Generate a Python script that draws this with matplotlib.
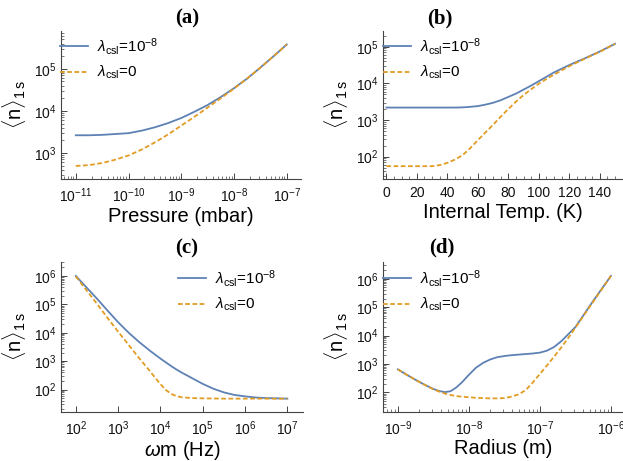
import matplotlib
matplotlib.use("Agg")
import matplotlib.pyplot as plt
import numpy as np

plt.rcParams["font.family"] = ["Liberation Sans", "DejaVu Sans"]
plt.rcParams["mathtext.fontset"] = "custom"
plt.rcParams["mathtext.rm"] = "Liberation Sans"
plt.rcParams["mathtext.it"] = "Liberation Sans:italic"
plt.rcParams["mathtext.bf"] = "Liberation Sans:bold"

BLUE = "#5E81B5"
ORANGE = "#E19C24"

# values read off log axes are kept as log10 of <n>
# (a) pressure, log10 of mbar
log_p = [-11, -10.75, -10.5, -10.25, -10, -9.75, -9.5, -9.25, -9, -8.75, -8.5, -8.25,
         -8, -7.75, -7.5, -7.25, -7]
log_n_a_csl = [3.42, 3.42, 3.43, 3.45, 3.47, 3.53, 3.61, 3.71, 3.83, 3.98, 4.14, 4.33,
               4.54, 4.77, 5.03, 5.30, 5.58]
log_n_a_0 = [2.69, 2.71, 2.76, 2.84, 2.94, 3.08, 3.25, 3.44, 3.65, 3.86, 4.08, 4.30,
             4.53, 4.77, 5.03, 5.30, 5.58]

# (b) internal temperature, K
temp = [0, 10, 20, 30, 35, 40, 45, 50, 55, 60, 65, 70, 75, 80, 85, 90, 95, 100, 105,
        110, 120, 130, 140, 150]
log_n_b_csl = [3.34, 3.34, 3.34, 3.34, 3.34, 3.34, 3.34, 3.345, 3.36, 3.38, 3.42, 3.47,
               3.54, 3.63, 3.72, 3.83, 3.94, 4.06, 4.18, 4.30, 4.50, 4.68, 4.87, 5.08]
log_n_b_0 = [1.74, 1.74, 1.74, 1.74, 1.77, 1.83, 1.92, 2.04, 2.23, 2.45, 2.66, 2.87,
             3.09, 3.30, 3.50, 3.68, 3.84, 3.99, 4.12, 4.24, 4.47, 4.67, 4.86, 5.08]

# (c) trap frequency, log10 of Hz
log_w = [2, 2.25, 2.5, 2.75, 3, 3.25, 3.5, 3.75, 3.875, 4, 4.125, 4.25, 4.375, 4.5,
         4.75, 5, 5.25, 5.5, 5.75, 6, 6.25, 6.5, 6.75, 7]
log_n_c_csl = [6.0, 5.6, 5.2, 4.78, 4.37, 4.0, 3.67, 3.37, 3.23, 3.09, 2.96, 2.83, 2.71,
               2.60, 2.40, 2.20, 2.03, 1.90, 1.81, 1.76, 1.72, 1.70, 1.69, 1.68]
log_n_c_0 = [5.98, 5.5, 5.02, 4.52, 4.04, 3.57, 3.1, 2.65, 2.42, 2.19, 1.99, 1.85, 1.77,
             1.73, 1.70, 1.69, 1.685, 1.68, 1.68, 1.68, 1.68, 1.68, 1.68, 1.68]

# (d) radius, log10 of m
log_r = [-9, -8.875, -8.75, -8.625, -8.5, -8.42, -8.34, -8.26, -8.18, -8.1, -8.0, -7.9,
         -7.8, -7.7, -7.6, -7.5, -7.4, -7.3, -7.2, -7.1, -7.0, -6.9, -6.8, -6.7, -6.6,
         -6.5, -6.25, -6.0]
log_n_d_csl = [2.81, 2.62, 2.44, 2.27, 2.12, 2.05, 2.01, 2.04, 2.17, 2.35, 2.62, 2.87,
               3.04, 3.16, 3.24, 3.28, 3.31, 3.33, 3.35, 3.37, 3.40, 3.47, 3.60, 3.80,
               4.05, 4.30, 5.22, 6.10]
log_n_d_0 = [2.81, 2.62, 2.44, 2.27, 2.11, 2.03, 1.96, 1.91, 1.87, 1.85, 1.83, 1.81,
             1.80, 1.79, 1.79, 1.80, 1.85, 1.93, 2.08, 2.35, 2.65, 2.95, 3.26, 3.58,
             3.92, 4.28, 5.19, 6.10]

W, H = 623, 461
fig = plt.figure(figsize=(W / 100, H / 100), dpi=100)


def box(l, t, r, b):
    return [l / W, 1 - b / H, (r - l) / W, (b - t) / H]


def style(ax):
    ax.spines[["top", "right"]].set_visible(False)
    ax.spines[["left", "bottom"]].set_color("#444444")
    ax.spines[["left", "bottom"]].set_linewidth(0.8)
    ax.tick_params(which="both", direction="in", color="#444444", labelsize=10, labelcolor="#111111")
    ax.tick_params(which="major", length=4, width=0.7)
    ax.tick_params(which="minor", length=2, width=0.5)
    ax.tick_params(axis="x", which="major", pad=5)
    ax.set_ylabel(r"$\langle$n$\rangle_{\rm 1\,s}$", fontsize=14.5, labelpad=4)


def draw(ax, x, y1, y0, logx=True):
    x = np.array(x, dtype=float)
    if logx:
        x = 10 ** x
    ax.plot(x, 10 ** np.array(y1), color=BLUE, lw=1.3, label=r"$\lambda_{\rm csl}$=10$^{-8}$")
    ax.plot(x, 10 ** np.array(y0), color=ORANGE, lw=1.3, ls=(0, (2.6, 1.4)), label=r"$\lambda_{\rm csl}$=0")


def legend(ax, px, py):
    ax.legend(loc="upper left", bbox_to_anchor=(px / W, 1 - py / H), bbox_transform=fig.transFigure,
              frameon=False, fontsize=11, handlelength=1.85, handletextpad=0.55,
              borderpad=0, borderaxespad=0, labelspacing=0.45)


ax = fig.add_axes(box(61, 31, 301, 179))
draw(ax, log_p, log_n_a_csl, log_n_a_0)
ax.set_xscale("log")
ax.set_yscale("log")
ax.set_xlim(10 ** -11.28, 10 ** -6.73)
ax.set_ylim(10 ** 2.38, 10 ** 5.9)
ax.set_xticks([1e-11, 1e-10, 1e-9, 1e-8, 1e-7])
ax.set_yticks([1e3, 1e4, 1e5])
ax.set_xlabel("Pressure (mbar)", fontsize=14.5, labelpad=2)
style(ax)
legend(ax, 60, 36)

ax = fig.add_axes(box(383, 31, 622, 179))
draw(ax, temp, log_n_b_csl, log_n_b_0, logx=False)
ax.set_yscale("log")
ax.set_xlim(-2.2, 154.6)
ax.set_ylim(10 ** 1.39, 10 ** 5.43)
ax.set_xticks(np.arange(0, 141, 20))
ax.set_xticks(np.arange(0, 151, 5), minor=True)
ax.set_yticks([1e2, 1e3, 1e4, 1e5])
ax.set_xlabel("Internal Temp. (K)", fontsize=14.5, labelpad=2)
style(ax)
legend(ax, 383, 36)

ax = fig.add_axes(box(61, 262, 303, 412))
draw(ax, log_w, log_n_c_csl, log_n_c_0)
ax.set_xscale("log")
ax.set_yscale("log")
ax.set_xlim(10 ** 1.65, 10 ** 7.37)
ax.set_ylim(10 ** 1.21, 10 ** 6.49)
ax.set_xticks([1e2, 1e3, 1e4, 1e5, 1e6, 1e7])
ax.set_yticks([1e2, 1e3, 1e4, 1e5, 1e6])
ax.set_xlabel(r"$\omega$m (Hz)", fontsize=14.5, labelpad=1)
style(ax)
legend(ax, 178, 268)

ax = fig.add_axes(box(383, 262, 623, 412))
draw(ax, log_r, log_n_d_csl, log_n_d_0)
ax.set_xscale("log")
ax.set_yscale("log")
ax.set_xlim(10 ** -9.21, 10 ** -5.83)
ax.set_ylim(10 ** 1.31, 10 ** 6.59)
ax.set_xticks([1e-9, 1e-8, 1e-7, 1e-6])
ax.set_yticks([1e2, 1e3, 1e4, 1e5, 1e6])
ax.set_xlabel("Radius (m)", fontsize=14.5, labelpad=1)
style(ax)
legend(ax, 383, 268)

for label, px, py in [("(a)", 187, 18), ("(b)", 440, 18), ("(c)", 187, 248), ("(d)", 442, 247)]:
    fig.text(px / W, 1 - py / H, label, ha="center", va="center", fontsize=15,
             fontweight="bold", family=["Liberation Serif", "DejaVu Serif"])

fig.savefig("out.png", dpi=100)
